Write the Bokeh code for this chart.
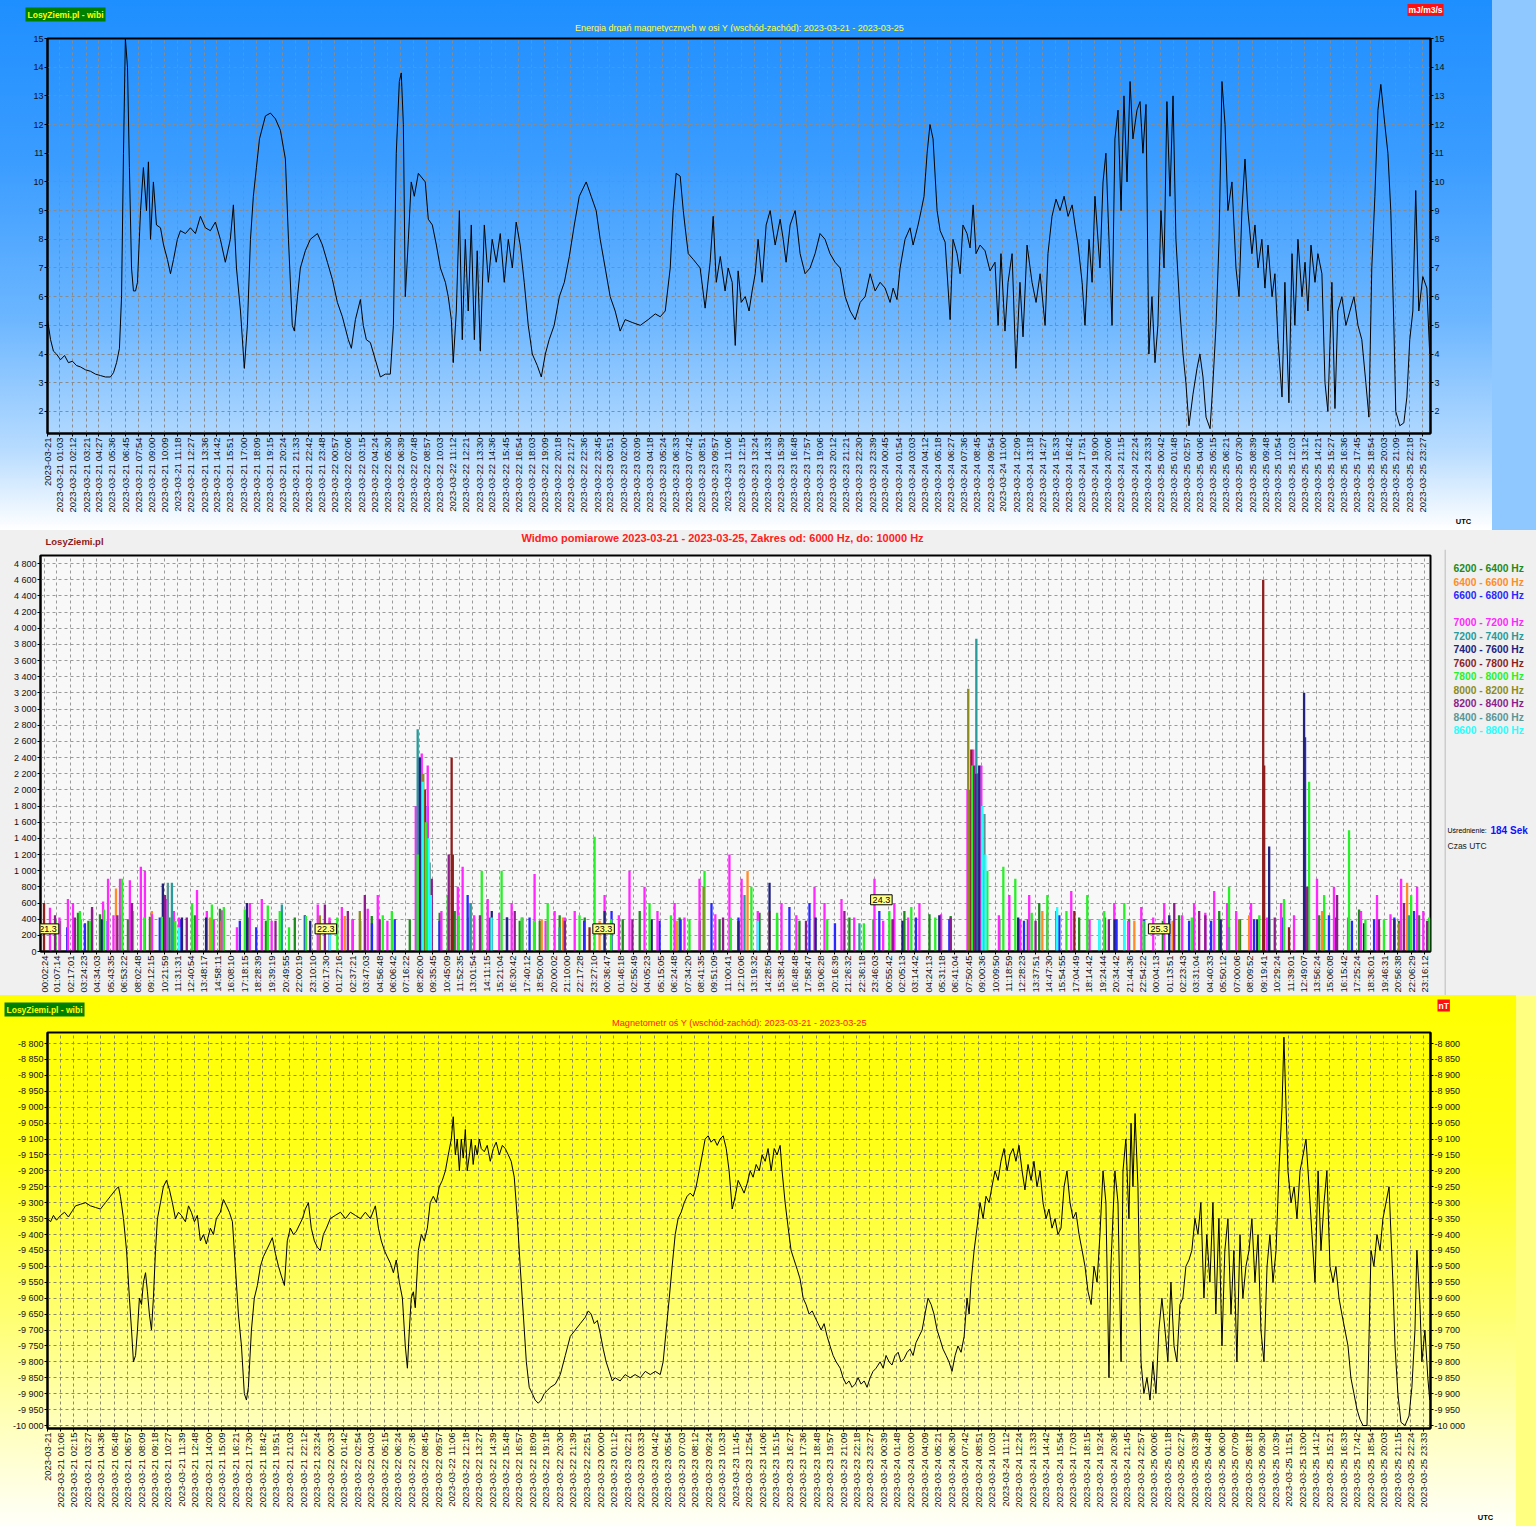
import math
from bokeh.plotting import figure
from bokeh.models import (Range1d, FixedTicker, LinearAxis, Label, Grid, Span)
from bokeh.layouts import column, row
from bokeh.embed import file_html
from bokeh.resources import INLINE

FONT = "Liberation Sans"
W = 1536
DAYS = ["2023-03-21", "2023-03-22", "2023-03-23", "2023-03-24", "2023-03-25"]

# ------------------------------------------------------------------ tick labels
energy_tick_times = [
    ["01:03", "02:12", "03:21", "04:27", "05:36", "06:45", "07:54", "09:00", "10:09", "11:18", "12:27",
     "13:36", "14:42", "15:51", "17:00", "18:09", "19:15", "20:24", "21:33", "22:42", "23:48"],
    ["00:57", "02:06", "03:15", "04:24", "05:30", "06:39", "07:48", "08:57", "10:03", "11:12", "12:21",
     "13:30", "14:36", "15:45", "16:54", "18:03", "19:09", "20:18", "21:27", "22:36", "23:45"],
    ["00:51", "02:00", "03:09", "04:18", "05:24", "06:33", "07:42", "08:51", "09:57", "11:06", "12:15",
     "13:24", "14:33", "15:39", "16:48", "17:57", "19:06", "20:12", "21:21", "22:30", "23:39"],
    ["00:45", "01:54", "03:03", "04:12", "05:18", "06:27", "07:36", "08:45", "09:54", "11:00", "12:09",
     "13:18", "14:27", "15:33", "16:42", "17:51", "19:00", "20:06", "21:15", "22:24", "23:33"],
    ["00:42", "01:48", "02:57", "04:06", "05:15", "06:21", "07:30", "08:39", "09:48", "10:54", "12:03",
     "13:12", "14:21", "15:27", "16:36", "17:45", "18:54", "20:03", "21:09", "22:18", "23:27"],
]
mag_tick_times = [
    ["01:06", "02:15", "03:27", "04:36", "05:48", "06:57", "08:09", "09:18", "10:27", "11:39", "12:48",
     "14:00", "15:09", "16:21", "17:30", "18:42", "19:51", "21:03", "22:12", "23:24"],
    ["00:33", "01:42", "02:54", "04:03", "05:15", "06:24", "07:36", "08:45", "09:57", "11:06", "12:18",
     "13:27", "14:39", "15:48", "16:57", "18:09", "19:18", "20:30", "21:39", "22:51"],
    ["00:00", "01:12", "02:21", "03:33", "04:42", "05:54", "07:03", "08:12", "09:24", "10:33", "11:45",
     "12:54", "14:06", "15:15", "16:27", "17:36", "18:48", "19:57", "21:09", "22:18", "23:27"],
    ["00:39", "01:48", "03:00", "04:09", "05:21", "06:30", "07:42", "08:51", "10:03", "11:12", "12:24",
     "13:33", "14:42", "15:54", "17:03", "18:15", "19:24", "20:36", "21:45", "22:57"],
    ["00:06", "01:18", "02:27", "03:39", "04:48", "06:00", "07:09", "08:18", "09:30", "10:39", "11:51",
     "13:00", "14:12", "15:21", "16:33", "17:42", "18:54", "20:03", "21:15", "22:24", "23:33"],
]
spec_tick_times = [
    ["00:02:24", "01:07:14", "02:17:01", "03:24:23", "04:34:03", "05:43:35", "06:53:22", "08:02:48",
     "09:12:15", "10:21:59", "11:31:31", "12:40:54", "13:48:17", "14:58:11", "16:08:10", "17:18:15",
     "18:28:39", "19:39:19", "20:49:55", "22:00:19", "23:10:10"],
    ["00:17:30", "01:27:16", "02:37:21", "03:47:03", "04:56:48", "06:06:42", "07:16:22", "08:26:00",
     "09:35:45", "10:45:09", "11:52:35", "13:01:54", "14:11:15", "15:21:04", "16:30:42", "17:40:12",
     "18:50:00", "20:00:02", "21:10:00", "22:17:28", "23:27:10"],
    ["00:36:47", "01:46:18", "02:55:49", "04:05:23", "05:15:05", "06:24:48", "07:34:20", "08:41:35",
     "09:51:09", "11:00:41", "12:10:06", "13:19:32", "14:28:50", "15:38:43", "16:48:48", "17:58:47",
     "19:06:28", "20:16:39", "21:26:32", "22:36:18", "23:46:03"],
    ["00:55:42", "02:05:13", "03:14:42", "04:24:13", "05:31:18", "06:41:04", "07:50:45", "09:00:36",
     "10:09:50", "11:18:59", "12:28:23", "13:37:51", "14:47:30", "15:54:55", "17:04:49", "18:14:42",
     "19:24:44", "20:34:42", "21:44:36", "22:54:22"],
    ["00:04:13", "01:13:51", "02:23:43", "03:31:04", "04:40:33", "05:50:12", "07:00:06", "08:09:52",
     "09:19:41", "10:29:24", "11:39:01", "12:49:07", "13:56:24", "15:06:08", "16:15:42", "17:25:24",
     "18:36:01", "19:46:31", "20:56:38", "22:06:29", "23:16:12"],
]
energy_y_ticks = list(range(2, 16))
spec_y_ticks = list(range(0, 4801, 200))
mag_y_ticks = list(range(-10000, -8799, 50))

# ------------------------------------------------------------------ series (minutes since 2023-03-21 00:00, value)
energy_readings = [
    (0,5.2),(16,4.5),(31,4.1),(47,4.0),(68,3.8),(89,3.95),(109,3.7),(130,3.75),(151,3.6),(172,3.55),(198,3.45),
    (224,3.4),(250,3.3),(276,3.25),(302,3.2),(328,3.2),(344,3.35),(360,3.7),(375,4.2),(386,6.0),(396,11.0),
    (406,15.0),(417,14.0),(427,10.5),(438,7.0),(448,6.2),(459,6.2),(469,6.5),(485,9.0),(500,10.5),(516,9.0),
    (526,10.7),(537,8.0),(552,10.0),(568,8.5),(589,8.4),(605,7.8),(625,7.3),(641,6.8),(657,7.3),(677,8.0),
    (693,8.3),(719,8.2),(745,8.4),(771,8.2),(797,8.8),(823,8.4),(849,8.3),(875,8.6),(901,8.0),(927,7.2),
    (953,8.0),(969,9.2),(985,7.0),(1006,5.5),(1026,3.5),(1042,5.0),(1058,8.0),(1073,9.5),(1089,10.5),
    (1105,11.5),(1136,12.3),(1162,12.4),(1188,12.2),(1214,11.8),(1240,10.8),(1256,8.0),(1276,5.0),(1287,4.8),
    (1303,6.0),(1318,7.0),(1344,7.6),(1370,8.0),(1407,8.2),(1433,7.8),(1459,7.2),(1485,6.6),(1511,5.8),
    (1537,5.3),(1568,4.5),(1584,4.2),(1605,5.2),(1631,5.9),(1646,5.0),(1662,4.5),(1683,4.4),(1709,3.8),
    (1735,3.2),(1761,3.3),(1787,3.3),(1803,5.0),(1818,11.0),(1834,13.5),(1844,13.8),(1855,12.0),(1865,6.0),
    (1881,8.0),(1896,10.0),(1912,9.5),(1933,10.3),(1969,10.0),(1985,8.7),(2006,8.5),(2027,7.8),(2048,7.0),
    (2074,6.5),(2089,6.0),(2105,5.2),(2115,3.7),(2131,5.5),(2147,9.0),(2162,4.5),(2178,8.0),(2193,5.5),
    (2209,8.5),(2225,4.5),(2240,7.6),(2256,4.1),(2277,8.5),(2298,6.5),(2318,8.0),(2339,7.2),(2360,8.2),
    (2381,6.5),(2402,8.0),(2423,7.0),(2443,8.6),(2464,7.8),(2485,6.5),(2506,5.0),(2527,4.0),(2553,3.6),
    (2574,3.2),(2595,4.0),(2615,4.5),(2641,5.0),(2668,6.0),(2694,6.5),(2720,7.4),(2746,8.5),(2772,9.5),
    (2808,10.0),(2834,9.5),(2860,9.0),(2881,8.0),(2907,7.0),(2933,6.0),(2959,5.5),(2985,4.8),(3011,5.2),
    (3048,5.1),(3090,5.0),(3131,5.2),(3168,5.4),(3194,5.3),(3220,5.5),(3246,7.0),(3261,9.0),(3277,10.3),
    (3298,10.2),(3314,9.0),(3324,8.4),(3340,7.5),(3366,7.3),(3402,7.0),(3428,5.6),(3454,7.2),(3470,8.8),
    (3486,6.5),(3507,7.4),(3532,6.2),(3548,7.0),(3569,6.5),(3585,4.3),(3600,6.9),(3616,5.8),(3637,6.0),
    (3657,5.5),(3673,6.2),(3689,6.8),(3704,8.0),(3725,6.5),(3746,8.5),(3767,9.0),(3793,7.8),(3819,8.7),
    (3835,8.0),(3850,7.2),(3871,8.5),(3897,9.0),(3908,8.4),(3923,7.5),(3949,6.8),(3975,7.0),(4001,7.5),
    (4027,8.2),(4053,8.0),(4079,7.5),(4105,7.2),(4132,7.0),(4158,6.0),(4184,5.5),(4210,5.2),(4236,5.8),
    (4262,6.0),(4288,6.8),(4314,6.2),(4340,6.5),(4366,6.3),(4392,5.8),(4408,6.3),(4428,5.9),(4444,7.0),
    (4470,8.0),(4496,8.4),(4512,7.8),(4538,8.5),(4554,9.0),(4569,9.5),(4585,11.0),(4600,12.0),(4616,11.5),
    (4637,9.0),(4653,8.3),(4679,7.9),(4705,5.2),(4720,8.0),(4741,7.5),(4757,6.8),(4772,8.5),(4793,8.2),
    (4809,7.7),(4825,9.2),(4840,7.5),(4861,7.8),(4887,7.6),(4913,6.9),(4939,7.2),(4955,5.0),(4970,7.5),
    (4991,4.8),(5007,6.5),(5028,7.5),(5048,3.5),(5069,6.5),(5085,4.6),(5106,7.8),(5132,6.5),(5153,5.8),
    (5174,6.8),(5200,5.0),(5215,7.5),(5236,8.8),(5257,9.4),(5278,9.0),(5299,9.5),(5320,8.8),(5341,9.2),
    (5356,8.5),(5372,7.8),(5393,6.5),(5408,5.0),(5429,8.0),(5445,6.5),(5460,9.5),(5486,7.0),(5502,10.0),
    (5517,11.0),(5533,8.0),(5549,5.0),(5564,11.5),(5580,12.5),(5596,9.0),(5611,13.0),(5627,10.0),(5643,13.5),
    (5658,11.5),(5679,12.5),(5695,12.8),(5710,11.0),(5726,12.7),(5741,4.0),(5757,6.0),(5773,3.7),(5788,5.0),
    (5804,9.0),(5820,7.0),(5835,12.8),(5851,9.5),(5867,13.0),(5882,8.0),(5903,5.5),(5919,4.0),(5934,3.0),
    (5950,1.5),(5971,2.6),(5992,3.5),(6007,4.0),(6023,3.2),(6039,1.8),(6060,1.4),(6075,3.0),(6091,5.0),
    (6107,8.0),(6122,13.5),(6138,12.0),(6153,9.0),(6174,10.0),(6195,7.0),(6211,6.0),(6226,9.0),(6242,10.8),
    (6257,9.0),(6278,7.5),(6294,8.5),(6310,7.0),(6330,8.0),(6346,6.3),(6362,7.8),(6383,6.0),(6398,6.8),
    (6414,4.5),(6435,2.5),(6450,6.5),(6471,2.3),(6487,7.5),(6502,5.0),(6518,8.0),(6539,6.0),(6555,7.2),
    (6570,5.5),(6586,7.8),(6607,6.5),(6622,7.5),(6643,6.8),(6659,3.0),(6674,2.0),(6695,6.5),(6711,2.1),
    (6726,5.5),(6747,6.0),(6768,5.0),(6789,5.5),(6810,6.0),(6831,5.0),(6851,4.5),(6872,3.0),(6888,1.8),
    (6903,7.0),(6919,9.5),(6935,12.5),(6950,13.4),(6971,12.0),(6987,11.0),(7002,9.0),(7018,5.0),(7028,2.0),
    (7049,1.5),(7070,1.6),(7086,2.5),(7101,4.5),(7117,5.5),(7132,9.7),(7148,5.5),(7169,6.7),(7190,6.3),
    (7205,4.0),
]

mag_readings = [
    (0,-9350),(16,-9360),(31,-9340),(47,-9355),(68,-9340),(89,-9330),(109,-9345),(130,-9325),(146,-9310),
    (172,-9305),(198,-9300),(224,-9310),(250,-9315),(276,-9320),(302,-9300),(328,-9280),(354,-9260),
    (370,-9250),(380,-9280),(396,-9350),(412,-9450),(427,-9600),(438,-9700),(448,-9800),(459,-9780),
    (469,-9700),(479,-9600),(490,-9620),(500,-9550),(511,-9520),(521,-9580),(531,-9650),(542,-9700),
    (552,-9600),(563,-9450),(573,-9350),(589,-9300),(604,-9250),(620,-9230),(636,-9260),(651,-9300),
    (667,-9350),(683,-9330),(698,-9340),(719,-9360),(735,-9310),(750,-9330),(766,-9360),(781,-9340),
    (797,-9420),(813,-9400),(828,-9430),(849,-9380),(865,-9400),(880,-9350),(901,-9330),(917,-9290),
    (933,-9310),(948,-9330),(964,-9360),(979,-9500),(995,-9650),(1011,-9750),(1026,-9900),(1037,-9920),
    (1047,-9880),(1063,-9700),(1078,-9600),(1094,-9560),(1110,-9500),(1125,-9470),(1141,-9450),(1157,-9430),
    (1172,-9410),(1188,-9460),(1204,-9500),(1219,-9530),(1235,-9560),(1250,-9420),(1266,-9380),(1282,-9400),
    (1297,-9390),(1313,-9370),(1329,-9350),(1344,-9320),(1360,-9300),(1375,-9380),(1391,-9420),(1407,-9440),
    (1422,-9450),(1438,-9400),(1454,-9380),(1474,-9350),(1500,-9340),(1527,-9330),(1553,-9350),(1579,-9330),
    (1605,-9340),(1631,-9350),(1657,-9330),(1683,-9350),(1709,-9310),(1725,-9380),(1740,-9420),(1756,-9450),
    (1771,-9470),(1787,-9490),(1803,-9520),(1818,-9480),(1834,-9550),(1850,-9600),(1865,-9750),(1876,-9820),
    (1886,-9700),(1896,-9600),(1907,-9580),(1917,-9630),(1933,-9450),(1949,-9400),(1964,-9420),(1980,-9380),
    (1995,-9300),(2011,-9280),(2027,-9300),(2042,-9250),(2058,-9230),(2074,-9200),(2089,-9150),(2105,-9100),
    (2115,-9030),(2126,-9150),(2136,-9100),(2147,-9200),(2157,-9100),(2167,-9160),(2178,-9070),(2188,-9200),
    (2199,-9150),(2209,-9100),(2219,-9180),(2230,-9120),(2240,-9150),(2251,-9100),(2261,-9130),(2277,-9140),
    (2292,-9120),(2308,-9170),(2324,-9130),(2339,-9110),(2355,-9150),(2371,-9120),(2386,-9130),(2402,-9150),
    (2417,-9170),(2433,-9220),(2449,-9350),(2464,-9500),(2480,-9650),(2496,-9800),(2511,-9880),(2527,-9900),
    (2542,-9920),(2558,-9930),(2574,-9920),(2589,-9900),(2605,-9890),(2621,-9880),(2647,-9870),(2673,-9840),
    (2699,-9780),(2725,-9720),(2751,-9700),(2777,-9680),(2803,-9660),(2819,-9640),(2834,-9650),(2850,-9680),
    (2866,-9670),(2881,-9710),(2897,-9760),(2912,-9800),(2928,-9830),(2944,-9860),(2959,-9850),(2985,-9860),
    (3011,-9840),(3037,-9850),(3063,-9840),(3090,-9850),(3116,-9830),(3142,-9840),(3168,-9830),(3194,-9840),
    (3209,-9800),(3225,-9700),(3241,-9600),(3256,-9500),(3272,-9400),(3287,-9350),(3303,-9330),(3319,-9300),
    (3334,-9280),(3350,-9270),(3366,-9280),(3381,-9250),(3397,-9200),(3413,-9150),(3428,-9100),(3444,-9090),
    (3459,-9110),(3475,-9100),(3491,-9120),(3506,-9100),(3522,-9090),(3538,-9130),(3553,-9200),(3569,-9320),
    (3585,-9280),(3600,-9230),(3616,-9250),(3631,-9270),(3647,-9240),(3663,-9200),(3678,-9220),(3694,-9180),
    (3710,-9200),(3725,-9150),(3741,-9170),(3756,-9130),(3772,-9200),(3788,-9130),(3803,-9150),(3819,-9120),
    (3829,-9200),(3845,-9300),(3861,-9380),(3876,-9450),(3892,-9480),(3908,-9510),(3923,-9540),(3939,-9600),
    (3954,-9620),(3970,-9650),(3986,-9640),(4001,-9660),(4017,-9680),(4033,-9700),(4048,-9680),(4064,-9720),
    (4079,-9750),(4095,-9780),(4111,-9800),(4132,-9820),(4147,-9850),(4163,-9870),(4178,-9860),(4194,-9880),
    (4210,-9870),(4225,-9850),(4241,-9870),(4257,-9860),(4272,-9880),(4288,-9850),(4303,-9830),(4319,-9820),
    (4340,-9800),(4356,-9820),(4371,-9780),(4387,-9800),(4402,-9810),(4418,-9780),(4434,-9770),(4449,-9800),
    (4465,-9790),(4481,-9770),(4496,-9760),(4512,-9780),(4527,-9740),(4543,-9720),(4559,-9700),(4574,-9650),
    (4590,-9600),(4606,-9620),(4621,-9650),(4637,-9700),(4653,-9730),(4668,-9760),(4684,-9780),(4699,-9800),
    (4715,-9830),(4731,-9780),(4746,-9750),(4762,-9770),(4778,-9720),(4793,-9600),(4804,-9650),(4814,-9550),
    (4830,-9450),(4845,-9380),(4861,-9300),(4877,-9350),(4892,-9280),(4908,-9300),(4923,-9250),(4939,-9200),
    (4955,-9230),(4970,-9170),(4986,-9130),(5002,-9200),(5017,-9150),(5033,-9130),(5048,-9170),(5064,-9120),
    (5080,-9200),(5095,-9260),(5111,-9180),(5127,-9230),(5142,-9170),(5158,-9250),(5174,-9200),(5189,-9300),
    (5205,-9350),(5220,-9320),(5236,-9380),(5252,-9350),(5267,-9400),(5283,-9380),(5299,-9250),(5314,-9200),
    (5330,-9300),(5346,-9350),(5361,-9330),(5377,-9400),(5393,-9450),(5408,-9500),(5424,-9580),(5440,-9620),
    (5455,-9500),(5471,-9550),(5486,-9400),(5502,-9200),(5517,-9300),(5533,-9850),(5543,-9500),(5564,-9200),
    (5580,-9300),(5596,-9800),(5606,-9200),(5621,-9100),(5637,-9350),(5648,-9050),(5658,-9250),(5669,-9020),
    (5684,-9250),(5700,-9800),(5715,-9900),(5731,-9850),(5747,-9920),(5762,-9800),(5778,-9900),(5793,-9700),
    (5809,-9600),(5825,-9700),(5840,-9800),(5856,-9550),(5872,-9750),(5887,-9800),(5903,-9620),(5918,-9600),
    (5934,-9500),(5950,-9480),(5965,-9450),(5981,-9350),(5997,-9400),(6012,-9300),(6028,-9600),(6043,-9400),
    (6059,-9550),(6075,-9300),(6090,-9650),(6106,-9350),(6122,-9750),(6137,-9450),(6153,-9350),(6169,-9650),
    (6184,-9450),(6200,-9800),(6216,-9400),(6231,-9600),(6247,-9500),(6263,-9450),(6278,-9350),(6294,-9550),
    (6310,-9400),(6325,-9700),(6341,-9800),(6357,-9500),(6372,-9400),(6388,-9550),(6404,-9450),(6419,-9200),
    (6435,-9000),(6445,-8780),(6456,-9000),(6466,-9200),(6482,-9300),(6498,-9250),(6513,-9350),(6529,-9200),
    (6545,-9150),(6560,-9100),(6576,-9250),(6591,-9400),(6607,-9550),(6623,-9200),(6638,-9450),(6654,-9300),
    (6669,-9200),(6685,-9500),(6701,-9550),(6716,-9500),(6732,-9600),(6747,-9650),(6763,-9700),(6779,-9750),
    (6794,-9850),(6810,-9900),(6826,-9950),(6841,-9980),(6857,-10000),(6878,-10000),(6899,-9450),(6914,-9500),
    (6930,-9400),(6946,-9450),(6961,-9350),(6977,-9300),(6993,-9250),(7003,-9400),(7013,-9550),(7024,-9750),
    (7039,-9900),(7055,-9990),(7076,-10000),(7097,-9970),(7112,-9880),(7128,-9700),(7138,-9450),(7154,-9620),
    (7164,-9800),(7180,-9700),(7195,-9850),(7205,-9920),
]

# spectrum bars: (minutes since 2023-03-21 00:00, amplitude)
bands = ["6200 - 6400 Hz", "6400 - 6600 Hz", "6600 - 6800 Hz", "7000 - 7200 Hz", "7200 - 7400 Hz",
         "7400 - 7600 Hz", "7600 - 7800 Hz", "7800 - 8000 Hz", "8000 - 8200 Hz", "8200 - 8400 Hz",
         "8400 - 8600 Hz", "8600 - 8800 Hz"]
band_colors = ["#1e8a1e", "#ff8c28", "#2828ff", "#ff28ff", "#289a9a", "#22227e", "#8c1e1e", "#28f028",
               "#8c8c1e", "#8c1e8c", "#5a9696", "#28ffff"]
band_6200 = [(83,380),(176,480),(290,460),(435,400),(549,430),(782,450),(912,530),(1057,420),(1300,420),
             (1481,380),(1699,440),(1896,400),(2051,480),(2129,500),(2310,420),(2466,380),(2673,450),(2803,420),
             (3088,500),(3295,420),(3502,400),(3709,480),(3916,380),(4175,420),(4460,500),(4590,460),(4875,1000),
             (4952,400),(5159,600),(5366,420),(5625,400),(5884,450),(6092,500),(6351,400),(6610,450),(6817,520),
             (7024,380),(7128,450),(230,380),(650,420),(1150,380),(1600,400),(2200,420),(2570,380),(3000,400),
             (3400,380),(3800,420),(4300,400),(4700,440),(5100,400),(5500,420),(5800,380),(6200,400),(6700,420),
             (7190,400)]
band_6400 = [(373,780),(559,500),(860,420),(1559,440),(1974,1600),(2207,600),(2690,420),(2880,380),(3647,1000),
             (3761,500),(4395,400),(4807,1500),(5175,500),(5652,380),(6247,450),(6625,500),(6921,300),(7066,850),
             (920,380),(2580,400),(3280,380),(4650,400),(5850,380)]
band_6600 = [(212,350),(704,400),(1015,380),(1352,450),(1818,400),(1989,1800),(2196,700),(2517,420),(2942,500),
             (3191,380),(3460,600),(3864,550),(3968,600),(4330,500),(4693,400),(4838,2200),(5263,450),(5703,400),
             (5936,380),(6273,400),(6537,2650),(6661,450),(6895,400),(7102,500),(120,300),(330,380),(600,420),
             (1100,300),(1700,350),(2050,380),(2400,420),(2800,380),(3300,400),(3600,420),(4100,350),(4520,420),
             (5080,380),(5560,400),(6050,380),(6420,420),(6780,380),(7000,420)]
band_7000 = [(31,540),(124,650),(150,600),(249,520),(306,620),(332,900),(394,900),(445,880),(502,1050),(523,1000),
             (632,650),(673,500),(793,760),(844,500),(922,510),(1067,600),(1129,650),(1419,580),(1544,550),
             (1678,530),(1730,700),(1927,1800),(1958,2450),(1989,2300),(2145,800),(2170,1050),(2300,650),(2424,600),
             (2543,960),(2647,500),(2751,500),(2906,700),(3035,1000),(3113,800),(3269,600),(3398,900),(3553,1200),
             (3616,900),(3823,600),(3994,800),(4046,600),(4134,650),(4305,900),(4408,600),(4538,600),(4787,2000),
             (4817,2500),(4859,2300),(5004,700),(5107,700),(5325,750),(5548,600),(5688,550),(5807,600),(5962,600),
             (6066,750),(6133,600),(6257,600),(6413,600),(6599,900),(6687,800),(6827,500),(6910,700),(7035,900),
             (7118,800),(80,420),(190,400),(360,450),(560,460),(700,420),(880,400),(1000,300),(1180,380),(1480,420),
             (1600,400),(1780,380),(2060,500),(2230,450),(2360,480),(2480,420),(2600,380),(2700,420),(2980,450),
             (3180,500),(3320,420),(3480,460),(3700,500),(3900,450),(4200,420),(4350,380),(4480,420),(4650,460),
             (4950,450),(5060,400),(5200,460),(5420,400),(5620,380),(5750,420),(5900,450),(6020,480),(6180,500),
             (6340,420),(6480,450),(6760,420),(6980,460),(7150,500)]
band_7200 = [(663,850),(1233,580),(1937,2750),(1969,1800),(2212,600),(2673,300),(3631,700),(4227,350),(4797,2000),
             (4833,3870),(5470,400),(7076,450)]
band_7400 = [(404,450),(616,840),(715,420),(1052,600),(1948,2400),(2321,500),(2906,500),(3761,850),(4641,450),
             (4828,2200),(4848,2300),(5833,450),(6289,400),(6351,1300),(6532,3200),(6843,350),(300,400),(840,420),
             (1380,380),(2400,420),(3150,400),(3600,380),(4000,420),(4450,380),(5050,420),(5550,400),(6100,400),
             (6700,420),(7000,400)]
band_7600 = [(0,600),(1974,2000),(2113,2400),(2119,1200),(2828,300),(4807,2500),(5341,500),(6320,4600),
             (6325,2300),(6454,300)]
band_7800 = [(186,500),(311,520),(404,900),(461,500),(611,430),(767,600),(870,580),(932,550),(1041,520),(1160,570),
             (1222,500),(1357,440),(1756,450),(1803,500),(1937,1200),(1979,1600),(2093,700),(2269,1000),(2372,1000),
             (2476,420),(2611,600),(2776,450),(2854,1420),(3139,600),(3346,400),(3424,1000),(3667,800),(4382,500),
             (4496,550),(4812,2300),(4890,1000),(4973,1050),(5035,900),(5201,700),(5408,700),(5496,500),(5600,600),
             (6143,800),(6428,650),(6558,2100),(6636,700),(6765,1500),(6946,400),(7087,700),(60,400),(240,380),
             (520,420),(680,380),(1270,300),(1520,420),(1640,380),(2150,450),(2540,380),(2940,400),(3250,450),
             (3560,420),(3800,480),(4060,400),(4250,350),(4620,420),(5120,480),(5300,500),(5700,380),(5950,420),
             (6300,450),(6850,400),(7180,420)]
band_8000 = [(1430,450),(1637,500),(1966,2200),(3419,800),(4791,3250),(6195,400),(7024,350)]
band_8200 = [(57,450),(249,550),(456,600),(627,700),(1456,580),(1575,500),(1663,700),(2010,900),(2098,1200),
             (2440,500),(4149,500),(4822,2300),(5859,600),(5988,500),(6548,800),(6703,700),(7050,600),(160,420),
             (380,450),(740,420),(1200,380),(1740,400),(2260,450),(2700,380),(3050,400),(3520,420),(3950,380),
             (4400,400),(4700,420),(5140,380),(5520,400),(6020,450),(6380,420),(6920,400),(7170,380)]
band_8400 = [(642,850),(1999,1100),(4875,1700),(5247,500),(6143,300)]
band_8600 = [(1481,250),(1963,2100),(1994,1400),(2005,700),(4864,1800),(4880,1200),(5252,550),(5470,400),
             (700,300),(2320,420),(3700,380),(5600,400)]
band_data = [band_6200, band_6400, band_6600, band_7000, band_7200, band_7400, band_7600, band_7800,
             band_8000, band_8200, band_8400, band_8600]

day_marks = ["21.3", "22.3", "23.3", "24.3", "25.3"]
day_mark_level = [280, 280, 280, 640, 280]


# ------------------------------------------------------------------ helpers
def tick_positions(per_day):
    out = []
    for d, times in enumerate(per_day):
        for t in times:
            parts = [int(s) for s in t.split(":")]
            m = d * 1440 + parts[0] * 60 + parts[1] + (parts[2] / 60.0 if len(parts) == 3 else 0.0)
            out.append(round(m, 4))
    return out


def dated_labels(per_day):
    return [f"{DAYS[d]} {t}" for d, times in enumerate(per_day) for t in times]


def spaced(v):
    return f"{v:,}".replace(",", " ")


def chart_fig(w, h, mb, xr, yr, frame_fill=None, border_fill=None):
    return figure(width=w, height=h, x_range=xr, y_range=yr, output_backend="svg",
                  toolbar_location=None, x_axis_type=None, y_axis_type=None,
                  min_border_left=mb[0], min_border_right=mb[1], min_border_top=mb[2], min_border_bottom=mb[3],
                  background_fill_color=frame_fill, border_fill_color=border_fill,
                  outline_line_color="black", outline_line_width=2)


def text_fig(w, h, fill=None):
    # a plain strip whose frame covers the whole canvas; y grows downwards (pixels)
    return figure(width=w, height=h, x_range=Range1d(0, w), y_range=Range1d(h, 0), output_backend="svg",
                  toolbar_location=None, x_axis_type=None, y_axis_type=None, min_border=0,
                  outline_line_color=None, background_fill_color=fill, border_fill_color=fill)


def txt(p, X, Y, text, **kw):
    kw.setdefault("text_font", FONT)
    kw.setdefault("text_baseline", "middle")
    p.add_layout(Label(x=X, y=Y, text=text, **kw))


def add_axes(p, xt, xl, yt, yl, right, grid_color):
    common = dict(major_label_text_font=FONT, major_label_text_color="#111111", axis_line_width=2,
                  axis_line_color="black", major_tick_out=3, major_tick_in=0, minor_tick_out=0,
                  minor_tick_in=0, major_label_standoff=1)
    xa = LinearAxis(ticker=FixedTicker(ticks=xt), major_label_overrides=dict(zip(xt, xl)),
                    major_label_orientation=math.pi / 2, major_label_text_font_size="9.5px", **common)
    p.add_layout(xa, "below")
    ya = LinearAxis(ticker=FixedTicker(ticks=yt), major_label_overrides=dict(zip(yt, yl)),
                    major_label_text_font_size="9px", **common)
    p.add_layout(ya, "left")
    if right:
        ra = LinearAxis(ticker=FixedTicker(ticks=yt), major_label_overrides=dict(zip(yt, yl)),
                        major_label_text_font_size="9px", **common)
        p.add_layout(ra, "right")
    p.add_layout(Grid(dimension=0, ticker=FixedTicker(ticks=xt), grid_line_color=grid_color,
                      grid_line_dash="3 3", grid_line_width=1))
    p.add_layout(Grid(dimension=1, ticker=FixedTicker(ticks=yt), grid_line_color=grid_color,
                      grid_line_dash="3 3", grid_line_width=1))


# ------------------------------------------------------------------ top: energy
head1 = text_fig(W, 32)
txt(head1, 25, 14, "LosyZiemi.pl - wibi", text_font_size="8.5px", text_font_style="bold",
    text_color="#ffff00", background_fill_color="#008000", padding=2)
txt(head1, 1407, 9.5, "mJ/m3/s", text_font_size="8.5px", text_font_style="bold",
    text_color="white", background_fill_color="#ff1010", padding=1)
txt(head1, 739, 27, "Energia drgań magnetycznych w osi Y (wschód-zachód): 2023-03-21 - 2023-03-25",
    text_font_size="9px", text_color="#ffff40", text_align="center")

xt1 = [0] + tick_positions(energy_tick_times)
xl1 = ["2023-03-21"] + dated_labels(energy_tick_times)
p1 = chart_fig(W, 483, (47, 106, 6, 82), Range1d(0, 7209), Range1d(1.23, 15.0))
add_axes(p1, xt1, xl1, energy_y_ticks, [str(v) for v in energy_y_ticks], True, "#8a8a8a")
p1.line([a for a, b in energy_readings], [b for a, b in energy_readings], line_color="black", line_width=1)

foot1 = text_fig(W, 15)
txt(foot1, 1463, 6, "UTC", text_font_size="7.5px", text_font_style="bold", text_color="black",
    text_align="center")

top_panel = column(head1, row(p1), foot1, spacing=0, styles={
    "background": "linear-gradient(to right, rgba(0,0,0,0) 1492px, #8ec8ff 1492px), "
                  "linear-gradient(to bottom, #1e8fff 0%, #3a9cff 30%, #6cb6ff 60%, #b8dcff 85%, #ffffff 100%)"})

# ------------------------------------------------------------------ middle: spectrum
GRAY = "#f0f0f0"
head2 = text_fig(W, 19, GRAY)
txt(head2, 722, 7, "Widmo pomiarowe 2023-03-21 - 2023-03-25, Zakres od: 6000 Hz, do: 10000 Hz",
    text_font_size="11px", text_font_style="bold", text_color="#ff2020", text_align="center")
txt(head2, 45, 11, "LosyZiemi.pl", text_font_size="9.5px", text_font_style="bold", text_color="#8b1a1a")

xt2 = tick_positions(spec_tick_times)
xl2 = [t for times in spec_tick_times for t in times]
p2 = chart_fig(1444, 446, (40, 14, 6, 43), Range1d(-18.3, 7187.3), Range1d(0, 4899),
               frame_fill="#f8f8f8", border_fill=GRAY)
add_axes(p2, xt2, xl2, spec_y_ticks, [spaced(v) for v in spec_y_ticks], False, "#9a9a9a")
for pts, col in zip(band_data, band_colors):
    p2.vbar(x=[a for a, b in pts], top=[b for a, b in pts], width=12, bottom=0,
            fill_color=col, line_color=None)
for d, (mark, level) in enumerate(zip(day_marks, day_mark_level)):
    p2.add_layout(Label(x=d * 1440, y=level, text=mark, x_offset=4, text_font=FONT, text_font_size="9px",
                        text_align="center", text_baseline="middle", text_color="black",
                        background_fill_color="#ffff88", border_line_color="black", border_line_width=1,
                        padding=2))

leg2 = text_fig(92, 446, GRAY)
leg2.add_layout(Span(location=0.5, dimension="height", line_color="#a8a8a8", line_width=1))
legend_rows = [0, 1, 2, 4, 5, 6, 7, 8, 9, 10, 11, 12]
for r, name, col in zip(legend_rows, bands, band_colors):
    txt(leg2, 9, 19 + r * 13.5, name, text_font_size="10.3px", text_font_style="bold", text_color=col)
txt(leg2, 3, 281, "Uśrednienie:", text_font_size="7px", text_color="black")
txt(leg2, 46, 281, "184 Sek", text_font_size="10px", text_font_style="bold", text_color="#1010ff")
txt(leg2, 3, 296, "Czas UTC", text_font_size="8.5px", text_color="#222222")

mid_panel = column(head2, row(p2, column(leg2), spacing=0), spacing=0, styles={"background": GRAY})

# ------------------------------------------------------------------ bottom: magnetometer
head3 = text_fig(W, 33)
txt(head3, 4, 14, "LosyZiemi.pl - wibi", text_font_size="8.5px", text_font_style="bold",
    text_color="#ffff00", background_fill_color="#008000", padding=2)
txt(head3, 1437, 10, "nT", text_font_size="8.5px", text_font_style="bold",
    text_color="white", background_fill_color="#ff1010", padding=1)
txt(head3, 739, 27, "Magnetometr oś Y (wschód-zachód): 2023-03-21 - 2023-03-25",
    text_font_size="9.2px", text_color="#ff2020", text_align="center")

xt3 = [0] + tick_positions(mag_tick_times)
xl3 = ["2023-03-21"] + dated_labels(mag_tick_times)
p3 = chart_fig(W, 482, (47, 106, 4, 82), Range1d(0, 7209), Range1d(-10009.4, -8765.4))
add_axes(p3, xt3, xl3, mag_y_ticks, [spaced(v) for v in mag_y_ticks], True, "#8a8a6a")
p3.line([a for a, b in mag_readings], [b for a, b in mag_readings], line_color="black", line_width=1)

foot3 = text_fig(W, 16)
txt(foot3, 1485, 7, "UTC", text_font_size="7.5px", text_font_style="bold", text_color="black",
    text_align="center")

bot_panel = column(head3, row(p3), foot3, spacing=0, styles={
    "background": "linear-gradient(to right, rgba(0,0,0,0) 1516px, #ffff80 1516px), "
                  "linear-gradient(to bottom, #ffff00 0%, #ffff1a 30%, #ffff70 60%, #ffffc0 82%, #fffffa 100%)"})

layout = column(top_panel, mid_panel, bot_panel, spacing=0)
open("out.html", "w").write(file_html(layout, INLINE))
